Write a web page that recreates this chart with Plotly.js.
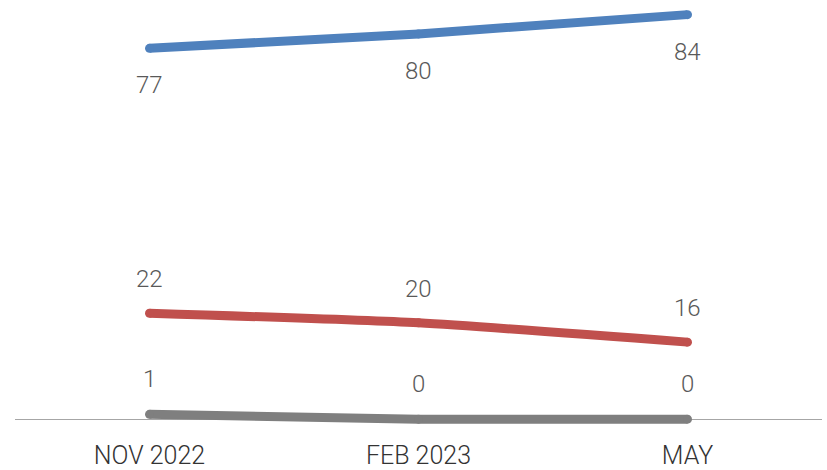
<!DOCTYPE html>
<html>
<head>
<meta charset="utf-8">
<script src="https://cdn.plot.ly/plotly-3.0.1.min.js"></script>
<style>html,body{margin:0;padding:0;background:#fff;}#chart{width:827px;height:470px;}</style>
</head>
<body>
<div id="chart"></div>
<script>
const categories = ["NOV 2022", "FEB 2023", "MAY"];
const seriesA = [77, 80, 84];
const seriesB = [22, 20, 16];
const seriesC = [1, 0, 0];
const seriesColors = ["#4f81bd", "#c0504d", "#7f7f7f"];
const labelShift = [-37, 34, 35];

const allSeries = [seriesA, seriesB, seriesC];
const traces = allSeries.map((vals, i) => ({
  x: categories,
  y: vals,
  type: "scatter",
  mode: "lines+markers",
  line: {color: seriesColors[i], width: 9, shape: "spline", smoothing: 0.6},
  marker: {color: seriesColors[i], size: 9},
  hoverinfo: "skip",
  cliponaxis: false
}));

const annotations = [];
allSeries.forEach((vals, i) => {
  vals.forEach((v, j) => {
    annotations.push({
      x: categories[j], y: v, xref: "x", yref: "y",
      text: String(v), showarrow: false, yshift: labelShift[i],
      font: {family: "Roboto, sans-serif", size: 24, color: "#595959", weight: 300}
    });
  });
});

const layout = {
  width: 827, height: 470,
  margin: {l: 15, r: 5, t: 5, b: 46},
  paper_bgcolor: "#fff", plot_bgcolor: "#fff",
  showlegend: false,
  xaxis: {
    type: "category", range: [-0.5, 2.5],
    showgrid: false, zeroline: false, showline: false, ticks: "",
    ticklabelstandoff: 14,
    tickfont: {family: "Roboto, sans-serif", size: 25, color: "#333", weight: 300},
    fixedrange: true
  },
  yaxis: {
    range: [-1, 86], showgrid: false, showticklabels: false,
    zeroline: true, zerolinecolor: "#a6a6a6", zerolinewidth: 1,
    showline: false, ticks: "", fixedrange: true
  },
  annotations: annotations
};

Plotly.newPlot("chart", traces, layout, {displayModeBar: false, staticPlot: true});
</script>
</body>
</html>
